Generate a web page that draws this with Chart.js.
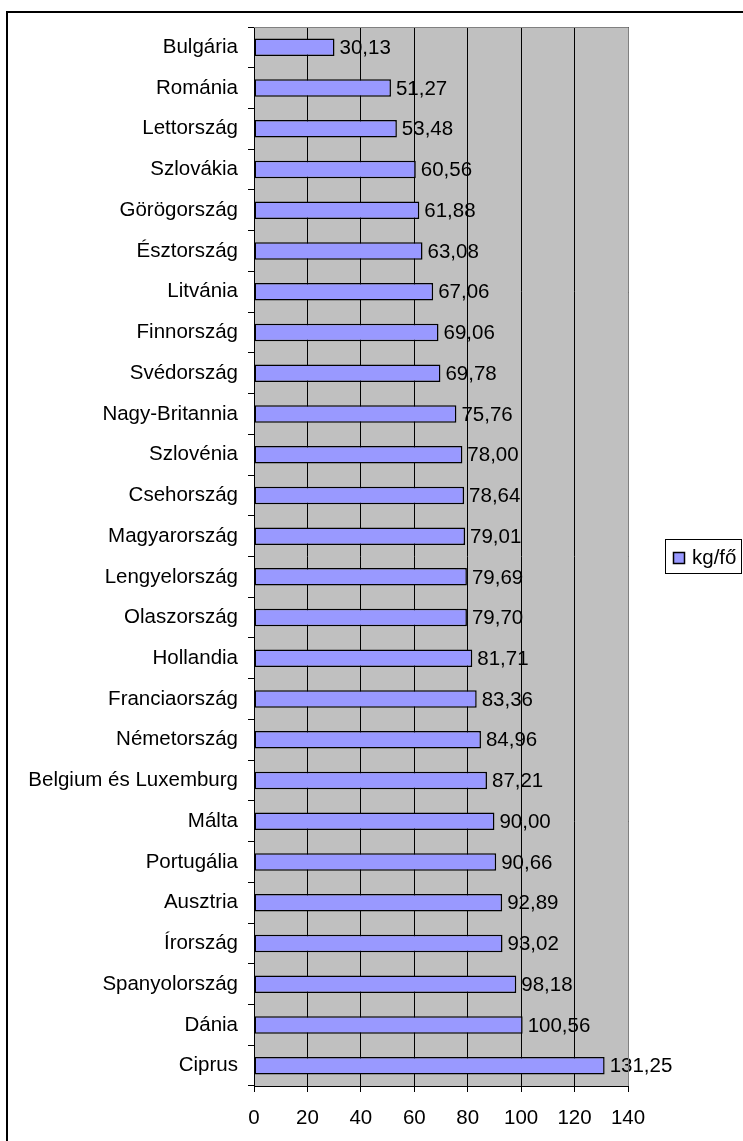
<!DOCTYPE html>
<html>
<head>
<meta charset="utf-8">
<script src="https://cdn.jsdelivr.net/npm/chart.js@4/dist/chart.umd.min.js"></script>
<style>
  html, body { margin: 0; padding: 0; background: #fff; }
  #wrap { width: 743px; height: 1141px; position: relative; }
</style>
</head>
<body>
<div id="wrap"><canvas id="chart"></canvas></div>
<script>
const countries = [
    'Bulgária', 'Románia', 'Lettország', 'Szlovákia', 'Görögország', 'Észtország',
    'Litvánia', 'Finnország', 'Svédország', 'Nagy-Britannia', 'Szlovénia', 'Csehország',
    'Magyarország', 'Lengyelország', 'Olaszország', 'Hollandia', 'Franciaország',
    'Németország', 'Belgium és Luxemburg', 'Málta', 'Portugália', 'Ausztria',
    'Írország', 'Spanyolország', 'Dánia', 'Ciprus'
];
const kgPerCapita = [
    30.13, 51.27, 53.48, 60.56, 61.88, 63.08,
    67.06, 69.06, 69.78, 75.76, 78.00, 78.64,
    79.01, 79.69, 79.70, 81.71, 83.36,
    84.96, 87.21, 90.00, 90.66, 92.89,
    93.02, 98.18, 100.56, 131.25
];
const xTicks = [0, 20, 40, 60, 80, 100, 120, 140];
const seriesName = 'kg/fő';

const FONT = '"Liberation Sans", Arial, sans-serif';
const FONT_SIZE = 20.5;
const BAR_COLOR = '#9999FF';

// white page, gray plot area, outer frame
const backgroundPlugin = {
    id: 'background',
    beforeDraw(chart) {
        const { ctx, chartArea: a } = chart;
        ctx.save();
        ctx.fillStyle = '#fff';
        ctx.fillRect(0, 0, chart.width, chart.height);
        ctx.fillStyle = '#C0C0C0';
        ctx.fillRect(a.left, a.top, a.right - a.left, a.bottom - a.top);
        ctx.restore();
    },
    afterDraw(chart) {
        const { ctx, chartArea: a } = chart;
        ctx.save();
        // plot border top / right
        ctx.strokeStyle = '#808080';
        ctx.lineWidth = 1;
        ctx.beginPath();
        ctx.moveTo(a.left, a.top + 0.5);
        ctx.lineTo(a.right + 0.5, a.top + 0.5);
        ctx.lineTo(a.right + 0.5, a.bottom);
        ctx.stroke();
        // outer frame
        ctx.strokeStyle = '#000';
        ctx.lineWidth = 2;
        ctx.strokeRect(7, 12, 800, 1200);
        ctx.restore();
    }
};

// value labels at bar ends
const valueLabels = {
    id: 'valueLabels',
    afterDatasetsDraw(chart) {
        const { ctx } = chart;
        const meta = chart.getDatasetMeta(0);
        ctx.save();
        ctx.font = FONT_SIZE + 'px ' + FONT;
        ctx.fillStyle = '#000';
        ctx.textAlign = 'left';
        ctx.textBaseline = 'middle';
        meta.data.forEach((bar, i) => {
            const txt = kgPerCapita[i].toFixed(2).replace('.', ',');
            ctx.fillText(txt, bar.x + 5, bar.y + 1);
        });
        ctx.restore();
    }
};

// legend box on the right
const legendBox = {
    id: 'legendBox',
    afterDraw(chart) {
        const { ctx } = chart;
        ctx.save();
        ctx.fillStyle = '#fff';
        ctx.fillRect(665, 539, 76, 34);
        ctx.strokeStyle = '#000';
        ctx.lineWidth = 1;
        ctx.strokeRect(665.5, 539.5, 76, 34);
        ctx.fillStyle = BAR_COLOR;
        ctx.fillRect(673, 552, 11, 11);
        ctx.lineWidth = 1.5;
        ctx.strokeRect(673.5, 552.5, 11, 11);
        ctx.fillStyle = '#000';
        ctx.font = FONT_SIZE + 'px ' + FONT;
        ctx.textBaseline = 'middle';
        ctx.fillText(seriesName, 692, 558);
        ctx.restore();
    }
};

new Chart(document.getElementById('chart'), {
    type: 'bar',
    data: {
        labels: countries,
        datasets: [{
            label: seriesName,
            data: kgPerCapita,
            backgroundColor: BAR_COLOR,
            borderColor: '#000',
            borderWidth: 1.5,
            borderSkipped: false,
            categoryPercentage: 1,
            barPercentage: 0.43
        }]
    },
    options: {
        indexAxis: 'y',
        responsive: true,
        maintainAspectRatio: false,
        animation: false,
        devicePixelRatio: 1,
        layout: { padding: { top: 27, right: 115, left: 0, bottom: 0 } },
        plugins: {
            legend: { display: false },
            tooltip: { enabled: false }
        },
        scales: {
            x: {
                min: 0,
                max: 140,
                afterBuildTicks: (scale) => { scale.ticks = xTicks.map(v => ({ value: v })); },
                afterFit: (scale) => { scale.height = 55; },
                grid: { color: '#000', lineWidth: 1, tickLength: 6, drawTicks: true },
                border: { color: '#000', width: 1 },
                ticks: {
                    color: '#000',
                    padding: 14,
                    maxRotation: 0,
                    font: { family: FONT, size: FONT_SIZE }
                }
            },
            y: {
                afterFit: (scale) => { scale.width = 254; },
                grid: { drawOnChartArea: false, color: '#000', tickLength: 6, offset: true },
                border: { color: '#000', width: 1 },
                ticks: {
                    color: '#000',
                    padding: 10,
                    autoSkip: false,
                    font: { family: FONT, size: FONT_SIZE }
                }
            }
        }
    },
    plugins: [backgroundPlugin, valueLabels, legendBox]
});
</script>
</body>
</html>
